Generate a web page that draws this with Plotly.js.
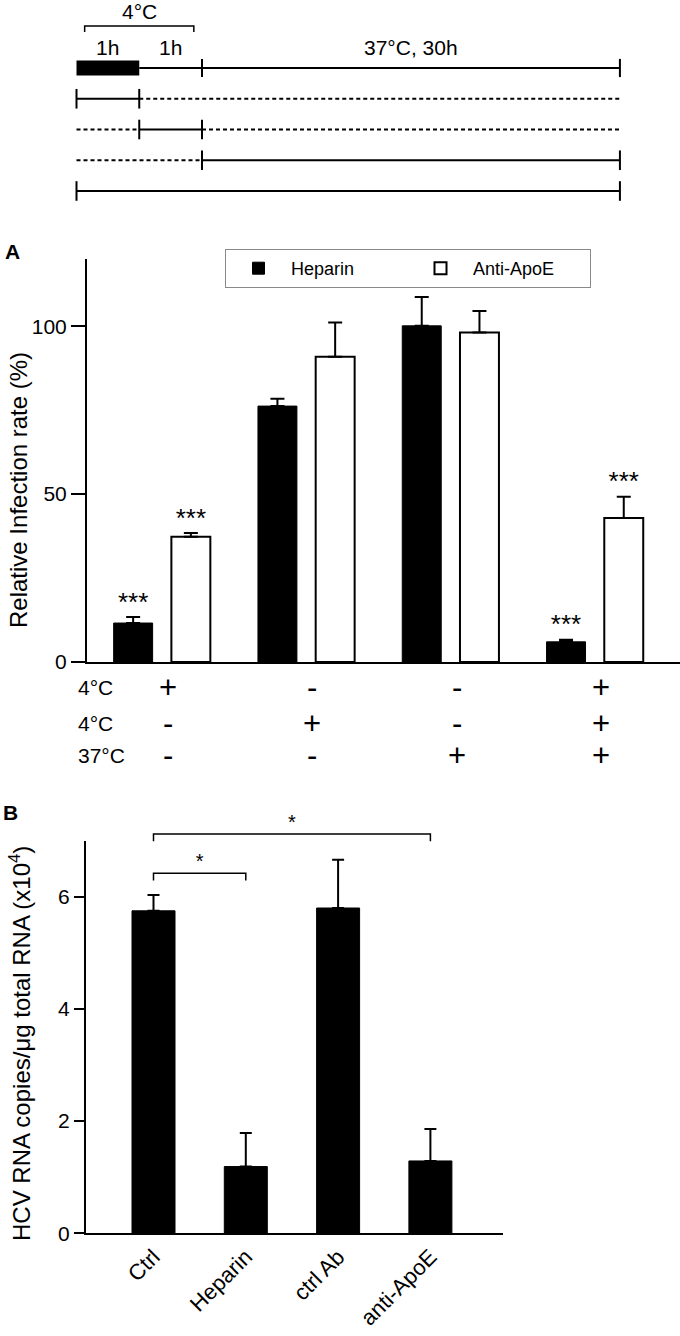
<!DOCTYPE html>
<html>
<head>
<meta charset="utf-8">
<script src="https://cdn.plot.ly/plotly-3.0.1.min.js"></script>
<style>html,body{margin:0;padding:0;background:#fff}</style>
</head>
<body>
<div id="chart" style="width:680px;height:1336px"></div>
<script>
// ---------------- DATA ----------------
// Panel A: relative infection rate (%) for 4 treatment-timing conditions
const groupsA = ['cond1', 'cond2', 'cond3', 'cond4'];
const seriesNames = ['Heparin', 'Anti-ApoE'];
const heparinVals = [11.6, 76.2, 100.1, 6.0];
const heparinErr  = [1.8, 2.2, 8.6, 0.6];
const apoeVals    = [37.3, 90.9, 98.1, 42.9];
const apoeErr     = [1.1, 10.2, 6.4, 6.3];
const heparinSig  = ['***', '', '', '***'];
const apoeSig     = ['***', '', '', '***'];
// treatment presence during each stage (rows = stages, columns = conditions)
const conditionLabels = ['4°C', '4°C', '37°C'];
const conditionMarks = [
  ['+', '-', '-', '+'],
  ['-', '+', '-', '+'],
  ['-', '-', '+', '+']
];
// protocol schematic: stage labels and schematic (not-to-scale) stage boundaries
const stageLabels = ['1h', '1h', '37°C, 30h'];
const stageBounds = [0, 1, 2, 8.66];
const bracketLabel = '4°C';

// Panel B: HCV RNA copies / µg total RNA (x10^4)
const categoriesB = ['Ctrl', 'Heparin', 'ctrl Ab', 'anti-ApoE'];
const rnaVals = [5.75, 1.19, 5.80, 1.29];
const rnaErr  = [0.28, 0.60, 0.86, 0.57];
const sigPairs = [[0, 1, '*'], [0, 3, '*']];

// ---------------- LAYOUT GEOMETRY ----------------
const W = 680, H = 1336;
const px = v => v / W;
const py = v => 1 - v / H;
const FONT = 'Liberation Sans, Arial, Helvetica, sans-serif';
const BLACK = '#000';

// panel A
const aLeft = 87, aBottom = 662, aTop = 259, aG0 = 162, aStep = 144.3;
const barW = 0.27, barShift = 0.2;
// panel B
const bLeft = 86, bRight = 503, bBottom = 1233.3, bTop = 840.7, bC0 = 153.5, bStep = 92.3;
const bExtTop = 812;
const bracketLevels = [6.42, 7.12];
const bracketDrop = 0.13;
// schematic
const dX0 = 76.5, dUnitX = 62.75, dRow0 = 68, dUnitY = 30.75;

const zeros = n => new Array(n).fill(0);
const idxA = groupsA.map((_, i) => i);
const idxB = categoriesB.map((_, i) => i);
const common = {hoverinfo: 'skip'};

const traces = [];

// ---- Panel A bars ----
traces.push(Object.assign({
  type: 'bar', name: seriesNames[0], x: idxA, y: heparinVals, xaxis: 'x', yaxis: 'y',
  width: barW, offset: -barShift - barW / 2,
  marker: {color: BLACK, line: {color: BLACK, width: 1}},
  error_y: {type: 'data', symmetric: false, array: heparinErr, arrayminus: zeros(4),
            color: BLACK, thickness: 2, width: 7}
}, common));
traces.push(Object.assign({
  type: 'bar', name: seriesNames[1], x: idxA, y: apoeVals, xaxis: 'x', yaxis: 'y',
  width: barW, offset: barShift - barW / 2,
  marker: {color: '#ffffff', line: {color: BLACK, width: 2}},
  error_y: {type: 'data', symmetric: false, array: apoeErr, arrayminus: zeros(4),
            color: BLACK, thickness: 2, width: 7}
}, common));
// significance stars A (only where a label exists)
[[heparinVals, heparinErr, heparinSig, -barShift], [apoeVals, apoeErr, apoeSig, barShift]].forEach(([v, e, s, sh]) => {
  const keep = idxA.filter(i => s[i]);
  traces.push(Object.assign({
    type: 'scatter', mode: 'text', x: keep.map(i => i + sh), y: keep.map(i => v[i] + e[i]),
    text: keep.map(i => s[i]), textposition: 'top center', textfont: {size: 26, color: BLACK, family: FONT},
    xaxis: 'x', yaxis: 'y', showlegend: false, cliponaxis: false
  }, common));
});

// ---- Panel B bars ----
traces.push(Object.assign({
  type: 'bar', name: 'HCV RNA', x: idxB, y: rnaVals, xaxis: 'x2', yaxis: 'y2',
  width: 43 / bStep, showlegend: false,
  marker: {color: BLACK, line: {color: BLACK, width: 1}},
  error_y: {type: 'data', symmetric: false, array: rnaErr, arrayminus: zeros(4),
            color: BLACK, thickness: 2, width: 6}
}, common));
// significance brackets B
const brX = [], brY = [], stX = [], stY = [], stT = [];
sigPairs.forEach(([a, b, lab], k) => {
  const top = bracketLevels[k], low = top - bracketDrop;
  brX.push(a, a, b, b, null);
  brY.push(low, top, top, low, null);
  stX.push((a + b) / 2); stY.push(top); stT.push(lab);
});
traces.push(Object.assign({
  type: 'scatter', mode: 'lines', x: brX, y: brY, xaxis: 'x2', yaxis: 'y4',
  line: {color: BLACK, width: 1.5}, showlegend: false
}, common));
traces.push(Object.assign({
  type: 'scatter', mode: 'text', x: stX, y: stY, text: stT, textposition: 'top center',
  textfont: {size: 20, color: BLACK, family: FONT}, xaxis: 'x2', yaxis: 'y4',
  showlegend: false, cliponaxis: false
}, common));

// ---- Protocol schematic ----
const dEnd = stageBounds[stageBounds.length - 1];
traces.push(Object.assign({
  type: 'bar', orientation: 'h', x: [stageBounds[1] - stageBounds[0]], base: [stageBounds[0]], y: [0],
  width: 15 / dUnitY, marker: {color: BLACK, line: {width: 0}},
  xaxis: 'x3', yaxis: 'y3', showlegend: false
}, common));
traces.push(Object.assign({
  type: 'scatter', mode: 'lines', x: [stageBounds[1], dEnd], y: [0, 0],
  line: {color: BLACK, width: 2}, xaxis: 'x3', yaxis: 'y3', showlegend: false
}, common));
traces.push(Object.assign({
  type: 'scatter', mode: 'markers', x: [stageBounds[2], dEnd], y: [0, 0],
  marker: {symbol: 'line-ns-open', size: 13, color: BLACK, line: {color: BLACK, width: 2}},
  xaxis: 'x3', yaxis: 'y3', showlegend: false
}, common));
const solidX = [], solidY = [], dotX = [], dotY = [], tickX = [], tickY = [];
groupsA.forEach((g, gi) => {
  const row = gi + 1;
  let s = 0;
  while (s < stageLabels.length) {
    const on = conditionMarks[s][gi] === '+';
    let e = s;
    while (e + 1 < stageLabels.length && (conditionMarks[e + 1][gi] === '+') === on) e++;
    const xa = stageBounds[s], xb = stageBounds[e + 1];
    if (on) {
      solidX.push(xa, xb, null); solidY.push(row, row, null);
      tickX.push(xa, xb); tickY.push(row, row);
    } else {
      dotX.push(xa, xb, null); dotY.push(row, row, null);
    }
    s = e + 1;
  }
});
traces.push(Object.assign({
  type: 'scatter', mode: 'lines', x: solidX, y: solidY, line: {color: BLACK, width: 2},
  xaxis: 'x3', yaxis: 'y3', showlegend: false
}, common));
traces.push(Object.assign({
  type: 'scatter', mode: 'lines', x: dotX, y: dotY, line: {color: BLACK, width: 2, dash: '4px,3px'},
  xaxis: 'x3', yaxis: 'y3', showlegend: false
}, common));
traces.push(Object.assign({
  type: 'scatter', mode: 'markers', x: tickX, y: tickY,
  marker: {symbol: 'line-ns-open', size: 14, color: BLACK, line: {color: BLACK, width: 2}},
  xaxis: 'x3', yaxis: 'y3', showlegend: false
}, common));
const brIn = 0.13;
const brTop = -(dRow0 - 26) / dUnitY, brLow = -(dRow0 - 32) / dUnitY;
traces.push(Object.assign({
  type: 'scatter', mode: 'lines',
  x: [stageBounds[0] + brIn, stageBounds[0] + brIn, stageBounds[2] - brIn, stageBounds[2] - brIn],
  y: [brLow, brTop, brTop, brLow],
  line: {color: BLACK, width: 1.5}, xaxis: 'x3', yaxis: 'y3', showlegend: false
}, common));

// ---------------- ANNOTATIONS ----------------
const ann = [];
const txt = (o) => Object.assign({showarrow: false, font: {family: FONT, size: 21, color: BLACK}}, o);
// stage labels
stageLabels.forEach((lab, i) => {
  ann.push(txt({text: lab, xref: 'x3', yref: 'y3', x: (stageBounds[i] + stageBounds[i + 1]) / 2, y: 0,
    yshift: 21, xanchor: 'center', yanchor: 'middle'}));
});
ann.push(txt({text: bracketLabel, xref: 'x3', yref: 'y3', x: (stageBounds[0] + stageBounds[2]) / 2, y: 0,
  yshift: 57, xanchor: 'center', yanchor: 'middle'}));
// panel labels
ann.push(txt({text: '<b>A</b>', xref: 'paper', yref: 'paper', x: px(3), y: py(251), xanchor: 'left', yanchor: 'middle',
  font: {family: FONT, size: 21, color: BLACK}}));
ann.push(txt({text: '<b>B</b>', xref: 'paper', yref: 'paper', x: px(1), y: py(813), xanchor: 'left', yanchor: 'middle',
  font: {family: FONT, size: 21, color: BLACK}}));
// axis titles
ann.push(txt({text: 'Relative Infection rate (%)', xref: 'paper', yref: 'paper', x: px(19), y: py(490),
  textangle: -90, xanchor: 'center', yanchor: 'middle', font: {family: FONT, size: 24, color: BLACK}}));
ann.push(txt({text: 'HCV RNA copies/μg total RNA (x10<sup>4</sup>)', xref: 'paper', yref: 'paper', x: px(20), y: py(1044),
  textangle: -90, xanchor: 'center', yanchor: 'middle', font: {family: FONT, size: 24, color: BLACK}}));
// condition table under panel A
const rowYs = [688, 723, 755];
conditionLabels.forEach((lab, r) => {
  ann.push(txt({text: lab, xref: 'paper', yref: 'paper', x: px(76), y: py(rowYs[r]), xanchor: 'left', yanchor: 'middle'}));
  conditionMarks[r].forEach((m, g) => {
    ann.push(txt({text: m, xref: 'x', yref: 'paper', x: g, xshift: 6, y: py(rowYs[r]), xanchor: 'center', yanchor: 'middle',
      font: {family: FONT, size: 31, color: BLACK}}));
  });
});

// ---------------- LAYOUT ----------------
const axisBase = {showgrid: false, zeroline: false, fixedrange: true, color: BLACK,
  linecolor: BLACK, tickcolor: BLACK, tickfont: {family: FONT, size: 21, color: BLACK}};
const layout = {
  width: W, height: H,
  margin: {l: 0, r: 0, t: 0, b: 0, pad: 0},
  paper_bgcolor: '#ffffff', plot_bgcolor: 'rgba(0,0,0,0)',
  font: {family: FONT, color: BLACK},
  barmode: 'overlay',
  showlegend: true,
  legend: {x: px(225), y: py(249), xanchor: 'left', yanchor: 'top', orientation: 'h',
    bordercolor: '#8a8a8a', borderwidth: 1, bgcolor: '#ffffff', itemwidth: 55,
    font: {family: FONT, size: 18, color: BLACK}, entrywidth: 112, entrywidthmode: 'pixels'},
  xaxis: Object.assign({}, axisBase, {domain: [px(aLeft), 1], anchor: 'y',
    range: [(aLeft - aG0) / aStep, (W - aG0) / aStep],
    showline: true, linewidth: 2, ticks: '', showticklabels: false}),
  yaxis: Object.assign({}, axisBase, {domain: [py(aBottom), py(aTop)], anchor: 'x',
    range: [0, 120], showline: true, linewidth: 2, ticks: 'outside', ticklen: 14, tickwidth: 2,
    tickvals: [0, 50, 100], ticktext: ['0', '50', '100']}),
  xaxis2: Object.assign({}, axisBase, {domain: [px(bLeft), px(bRight)], anchor: 'y2',
    range: [(bLeft - bC0) / bStep, (bRight - bC0) / bStep],
    showline: true, linewidth: 2, ticks: '', tickvals: idxB, ticktext: categoriesB, tickangle: -45,
    tickfont: {family: FONT, size: 22, color: BLACK}}),
  yaxis2: Object.assign({}, axisBase, {domain: [py(bBottom), py(bTop)], anchor: 'x2',
    range: [0, 7], showline: true, linewidth: 2, ticks: 'outside', ticklen: 10, tickwidth: 2,
    tickvals: [0, 2, 4, 6], ticktext: ['0', '2', '4', '6']}),
  yaxis4: Object.assign({}, axisBase, {domain: [py(bBottom), py(bExtTop)], anchor: 'x2',
    range: [0, 7 * (bBottom - bExtTop) / (bBottom - bTop)], visible: false}),
  xaxis3: Object.assign({}, axisBase, {domain: [0, 1], anchor: 'y3',
    range: [-dX0 / dUnitX, (W - dX0) / dUnitX], visible: false}),
  yaxis3: Object.assign({}, axisBase, {domain: [0, 1], anchor: 'x3',
    range: [(H - dRow0) / dUnitY, -dRow0 / dUnitY], visible: false}),
  annotations: ann
};

Plotly.newPlot('chart', traces, layout, {staticPlot: true, displayModeBar: false});
</script>
</body>
</html>
